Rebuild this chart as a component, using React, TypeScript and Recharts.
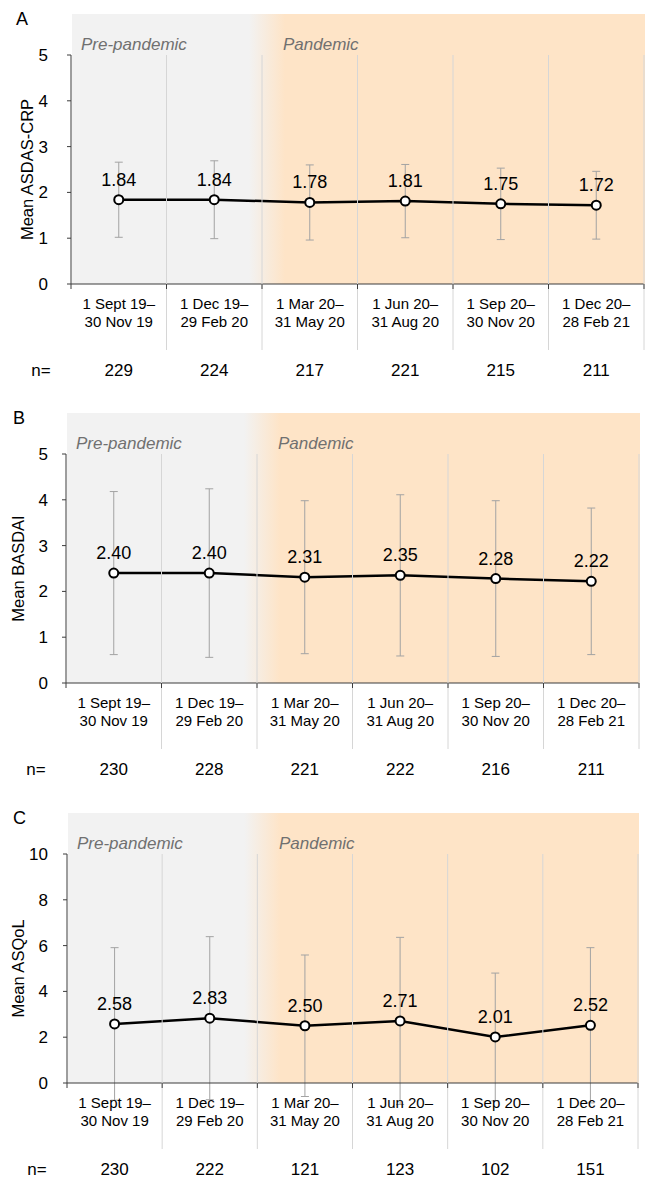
import React from "react";
import { LineChart, Line, XAxis, YAxis, ErrorBar, LabelList } from "recharts";

// periods (x categories)
const periodStart = ["1 Sept 19–", "1 Dec 19–", "1 Mar 20–", "1 Jun 20–", "1 Sep 20–", "1 Dec 20–"];
const periodEnd = ["30 Nov 19", "29 Feb 20", "31 May 20", "31 Aug 20", "30 Nov 20", "28 Feb 21"];

// A: ASDAS-CRP
const asdasMean = [1.84, 1.84, 1.78, 1.81, 1.75, 1.72];
const asdasSd = [0.82, 0.85, 0.82, 0.8, 0.78, 0.74];
const asdasN = [229, 224, 217, 221, 215, 211];
const asdasTicks = [0, 1, 2, 3, 4, 5];

// B: BASDAI
const basdaiMean = [2.4, 2.4, 2.31, 2.35, 2.28, 2.22];
const basdaiSd = [1.78, 1.84, 1.67, 1.76, 1.7, 1.6];
const basdaiN = [230, 228, 221, 222, 216, 211];
const basdaiTicks = [0, 1, 2, 3, 4, 5];

// C: ASQoL
const asqolMean = [2.58, 2.83, 2.5, 2.71, 2.01, 2.52];
const asqolSd = [3.33, 3.56, 3.09, 3.65, 2.79, 3.39];
const asqolN = [230, 222, 121, 123, 102, 151];
const asqolTicks = [0, 2, 4, 6, 8, 10];

const FONT = '"Liberation Sans", Arial, Helvetica, sans-serif';
const GRID = "#d6d6d6";
const AXIS = "#3c3c3c";
const PLOT_TOP = 41;
const PLOT_H = 229;
const XAXIS_H = 100;

function PeriodTick(props: any) {
  const { x, y, index, counts, band } = props;
  const right = x + band / 2;
  const left = x - band / 2;
  return (
    <g fontFamily={FONT}>
      <line x1={right} x2={right} y1={y - PLOT_H} y2={y + 66} stroke={GRID} strokeWidth={1} />
      <line x1={right} x2={right} y1={y} y2={y + 5} stroke={AXIS} strokeWidth={1} />
      {index === 0 && <line x1={left} x2={left} y1={y} y2={y + 5} stroke={AXIS} strokeWidth={1} />}
      <text x={x} y={y + 20} dy="0.35em" textAnchor="middle" fontSize={15} fill="#000">
        {periodStart[index]}
      </text>
      <text x={x} y={y + 37.5} dy="0.35em" textAnchor="middle" fontSize={15} fill="#000">
        {periodEnd[index]}
      </text>
      <text x={x} y={y + 86.5} dy="0.35em" textAnchor="middle" fontSize={17} fill="#000">
        {counts[index]}
      </text>
      {index === 0 && (
        <text x={left - 30} y={y + 86.5} dy="0.35em" textAnchor="middle" fontSize={17} fill="#000">
          n=
        </text>
      )}
    </g>
  );
}

type PanelProps = {
  letter: string;
  title: string;
  mean: number[];
  sd: number[];
  counts: number[];
  ticks: number[];
  top: number;
  plotLeft: number;
  plotRight: number;
  letterX: number;
  titleX: number;
  tickMargin: number;
};

function Panel(p: PanelProps) {
  const data = p.mean.map((m, i) => ({ period: periodStart[i], mean: m, sd: p.sd[i] }));
  const w = p.plotRight - p.plotLeft;
  const band = w / periodStart.length;
  const g1 = (((2 * band - 14) / w) * 100).toFixed(2);
  const g2 = (((2 * band + 22) / w) * 100).toFixed(2);
  const height = PLOT_TOP + PLOT_H + XAXIS_H;
  const textBase: React.CSSProperties = {
    position: "absolute",
    transform: "translateY(-50%)",
    lineHeight: 1,
    whiteSpace: "nowrap",
  };
  return (
    <div style={{ position: "absolute", left: 0, top: p.top, width: 645, height }}>
      <div
        style={{
          position: "absolute",
          left: p.plotLeft + 1,
          top: 0,
          width: w,
          height: PLOT_TOP + PLOT_H,
          background: `linear-gradient(to right, #f2f2f2 ${g1}%, #fee4c7 ${g2}%)`,
        }}
      />
      <LineChart
        width={645}
        height={height}
        data={data}
        margin={{ top: PLOT_TOP, right: 645 - p.plotRight, bottom: 0, left: 0 }}
        style={{ fontFamily: FONT }}
      >
        <XAxis
          dataKey="period"
          scale="band"
          height={XAXIS_H}
          interval={0}
          tickLine={false}
          tickSize={0}
          tickMargin={0}
          axisLine={{ stroke: AXIS, strokeWidth: 1 }}
          tick={(t: any) => <PeriodTick {...t} counts={p.counts} band={band} />}
        />
        <YAxis
          width={p.plotLeft}
          domain={[0, p.ticks[p.ticks.length - 1]]}
          ticks={p.ticks}
          allowDataOverflow
          tickSize={4}
          tickMargin={p.tickMargin}
          axisLine={{ stroke: AXIS, strokeWidth: 1 }}
          tickLine={{ stroke: AXIS, strokeWidth: 1 }}
          tick={{ fontSize: 17, fill: "#000" }}
          label={{
            value: p.title,
            angle: -90,
            position: "insideLeft",
            offset: p.titleX,
            style: { textAnchor: "middle" },
            fontSize: 16.5,
            fill: "#000",
          }}
        />
        <Line
          type="linear"
          dataKey="mean"
          stroke="#000"
          strokeWidth={2.5}
          dot={{ r: 4.5, fill: "#fff", stroke: "#000", strokeWidth: 2 }}
          activeDot={false}
          isAnimationActive={false}
        >
          <ErrorBar
            dataKey="sd"
            direction="y"
            width={4}
            stroke="#a3a3a3"
            strokeWidth={1}
            isAnimationActive={false}
          />
          <LabelList
            dataKey="mean"
            position="top"
            offset={14}
            fontSize={18}
            fill="#000"
            formatter={(v: any) => Number(v).toFixed(2)}
          />
        </Line>
      </LineChart>
      <div style={{ ...textBase, left: p.letterX, top: 5, fontSize: 18 }}>{p.letter}</div>
      <div
        style={{
          ...textBase,
          left: p.plotLeft + 10,
          top: 29.5,
          fontSize: 17,
          fontStyle: "italic",
          color: "#707070",
        }}
      >
        Pre-pandemic
      </div>
      <div
        style={{
          ...textBase,
          left: p.plotLeft + 212,
          top: 29.5,
          fontSize: 17,
          fontStyle: "italic",
          color: "#707070",
        }}
      >
        Pandemic
      </div>
    </div>
  );
}

export default function App() {
  return (
    <div
      style={{
        position: "absolute",
        left: 0,
        top: 0,
        width: 645,
        height: 1179,
        background: "#fff",
        fontFamily: FONT,
        color: "#000",
      }}
    >
      <Panel
        letter="A"
        title="Mean ASDAS-CRP"
        mean={asdasMean}
        sd={asdasSd}
        counts={asdasN}
        ticks={asdasTicks}
        top={14}
        plotLeft={71}
        plotRight={644}
        letterX={16}
        titleX={27}
        tickMargin={19}
      />
      <Panel
        letter="B"
        title="Mean BASDAI"
        mean={basdaiMean}
        sd={basdaiSd}
        counts={basdaiN}
        ticks={basdaiTicks}
        top={413}
        plotLeft={66}
        plotRight={639}
        letterX={13}
        titleX={18}
        tickMargin={14}
      />
      <Panel
        letter="C"
        title="Mean ASQoL"
        mean={asqolMean}
        sd={asqolSd}
        counts={asqolN}
        ticks={asqolTicks}
        top={813}
        plotLeft={67}
        plotRight={638}
        letterX={13}
        titleX={18}
        tickMargin={15}
      />
    </div>
  );
}
